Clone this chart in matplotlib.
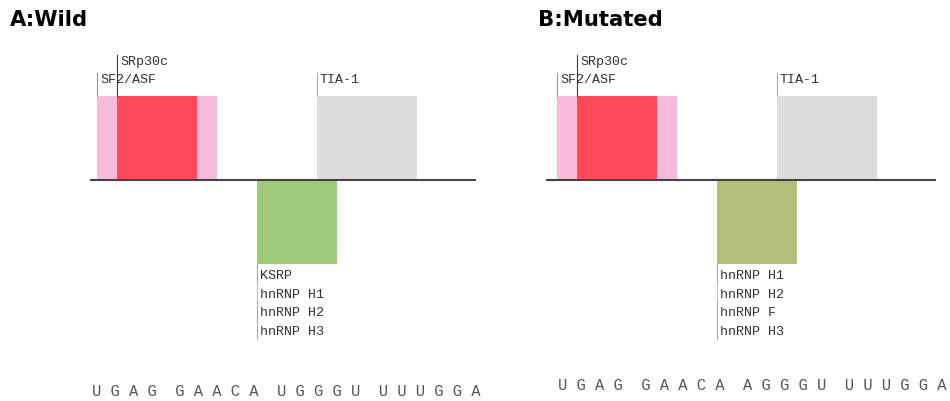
import matplotlib
matplotlib.use("Agg")
import matplotlib.pyplot as plt

# motif boxes: (start nt, end nt) along the 20-nt sequence, box score
titles = ["A:Wild", "B:Mutated"]
sequences = ["UGAG GAACA UGGGU UUUGGA", "UGAG GAACA AGGGU UUUGGA"]

up_names = ["SF2/ASF", "SRp30c", "TIA-1"]
up_start = [0, 1, 11]
up_end = [6, 5, 16]
up_score = [1.0, 1.0, 1.0]
up_level = [0, 1, 0]
up_colors = ["#f9bbdb", "#ff4a59", "#dddddd"]
up_line_colors = ["#999999", "#a0101c", "#aaaaaa"]

down_start = [8, 8]
down_end = [12, 12]
down_score = [-1.0, -1.0]
down_labels = [["KSRP", "hnRNP H1", "hnRNP H2", "hnRNP H3"],
               ["hnRNP H1", "hnRNP H2", "hnRNP F", "hnRNP H3"]]
down_colors = ["#9dc97a", "#b2bf7a"]
down_line_colors = ["#aaaaaa", "#d8d060", "#aaaaaa", "#aaaaaa"]

n_nt = 20

W, H = 950, 401
PX = 20.0   # pixels per nucleotide
PY = 84.0   # pixels per unit score
mono = "Liberation Mono"

fig = plt.figure(figsize=(W / 100, H / 100), dpi=100)

panel_left = [0, 460]
seq_xy = [(92, 391), (558, 386)]
title_x = [10, 538]

for p in range(2):
    ax = fig.add_axes([panel_left[p] / W, 0, 490 / W, 1])
    ax.set_xlim(-97 / PX, (490 - 97) / PX)
    ax.set_ylim(-(H - 180) / PY, 180 / PY)
    ax.axis("off")

    # baseline
    x0 = -0.35 if p == 0 else -0.55
    ax.plot([x0, n_nt - 1.05], [0, 0], color="#444444", lw=1.5,
            solid_capstyle="butt", zorder=3, clip_on=False)

    # upward boxes (pink first, red on top)
    for i in range(len(up_names)):
        ax.bar(up_start[i], up_score[i], width=up_end[i] - up_start[i],
               align="edge", color=up_colors[i], lw=0, zorder=1 + i * 0.1)
        top = up_score[i] + (23 + 18 * up_level[i]) / PY
        ax.plot([up_start[i], up_start[i]], [up_score[i], top],
                color=up_line_colors[i], lw=0.8, zorder=2, clip_on=False)
        ax.text(up_start[i] + 3 / PX, top - 7 / PY, up_names[i],
                family=mono, fontsize=9.6, color="#333333",
                ha="left", va="center")

    # downward box
    ax.bar(down_start[p], down_score[p], width=down_end[p] - down_start[p],
           align="edge", color=down_colors[p], lw=0, zorder=1)
    bottom = down_score[p]
    step = 18.7 / PY
    for j, lab in enumerate(down_labels[p]):
        y_top = bottom - j * step
        ax.plot([down_start[p], down_start[p]], [y_top, y_top - step],
                color=down_line_colors[j], lw=0.8, clip_on=False)
        ax.text(down_start[p] + 3 / PX, bottom - (12 / PY) - j * step, lab,
                family=mono, fontsize=9.6, color="#333333",
                ha="left", va="center")

    # sequence
    sx, sy = seq_xy[p]
    spaced = " ".join(sequences[p]).replace("   ", "  ")
    fig.text(sx / W, 1 - sy / H, spaced, family=mono, fontsize=11.2,
             color="#555555", ha="left", va="center")

    fig.text(title_x[p] / W, 1 - 20 / H, titles[p], fontsize=15.2,
             fontweight="bold", color="#000000", ha="left", va="center")

fig.savefig("out.png", dpi=100)
